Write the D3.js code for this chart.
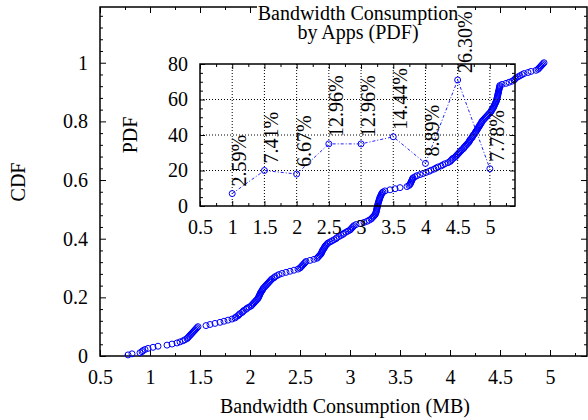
<!DOCTYPE html>
<html lang="en">
<head>
<meta charset="UTF-8">
<title>Bandwidth Consumption CDF / PDF</title>
<style>
  body { margin: 0; background: #fff; }
  svg { display: block; }
  svg text { font-family: "Liberation Serif", "DejaVu Serif", serif !important; fill: #000; }
</style>
</head>
<body>
<svg width="588" height="420" font-family="Liberation Serif"></svg>
<script src="https://d3js.org/d3.v7.min.js"></script>
<script>
// sorted per-app bandwidth samples (MB)
const bandwidth = [
  0.78, 0.82, 0.90, 0.92, 0.93, 0.95, 0.98,
  1.03, 1.08, 1.17, 1.22, 1.27, 1.30, 1.33, 1.35, 1.37, 1.38,
  1.39, 1.40, 1.41, 1.42, 1.43, 1.44, 1.45, 1.46, 1.47, 1.48,
  1.56, 1.60, 1.65, 1.70, 1.74, 1.78, 1.82, 1.85, 1.86, 1.88,
  1.89, 1.90, 1.92, 1.93, 1.94, 1.96, 1.97, 1.99,
  2.01, 2.02, 2.03, 2.04, 2.05, 2.06, 2.07, 2.08, 2.085, 2.09,
  2.095, 2.10, 2.105, 2.11, 2.12, 2.125, 2.13, 2.14, 2.15, 2.16,
  2.17, 2.18, 2.19, 2.20, 2.21, 2.22, 2.24, 2.25, 2.27, 2.29,
  2.32, 2.36, 2.40, 2.44, 2.48,
  2.50, 2.51, 2.52, 2.53, 2.54, 2.55, 2.56, 2.60, 2.64, 2.67,
  2.68, 2.69, 2.70, 2.71, 2.715, 2.72, 2.725, 2.73, 2.74, 2.745,
  2.75, 2.76, 2.77, 2.78, 2.80, 2.82, 2.84, 2.86, 2.87, 2.89,
  2.91, 2.93, 2.94, 2.96, 2.98,
  3.00, 3.01, 3.02, 3.03, 3.04, 3.06, 3.10, 3.14, 3.17, 3.19,
  3.21, 3.22, 3.23, 3.24, 3.25, 3.255, 3.26, 3.262, 3.265, 3.267,
  3.27, 3.272, 3.275, 3.277, 3.28, 3.283, 3.286, 3.29, 3.293, 3.296,
  3.30, 3.305, 3.31, 3.315, 3.32, 3.33, 3.35, 3.40, 3.45,
  3.50, 3.57, 3.59, 3.60, 3.605, 3.61, 3.615, 3.62, 3.625, 3.63,
  3.65, 3.67, 3.70, 3.73, 3.76, 3.79, 3.81, 3.84, 3.86, 3.88,
  3.91, 3.93, 3.95, 3.98,
  4.00, 4.01, 4.02, 4.03, 4.05, 4.06, 4.07, 4.08, 4.09, 4.10,
  4.11, 4.12, 4.135, 4.14, 4.15, 4.16, 4.17, 4.18, 4.19, 4.195,
  4.20, 4.21, 4.22, 4.225, 4.23, 4.24, 4.25, 4.255, 4.26, 4.27,
  4.275, 4.28, 4.29, 4.295, 4.30, 4.31, 4.315, 4.32, 4.33, 4.34,
  4.35, 4.36, 4.37, 4.38, 4.39, 4.40, 4.41, 4.415, 4.42, 4.43,
  4.435, 4.44, 4.445, 4.45, 4.455, 4.46, 4.465, 4.467, 4.47, 4.472,
  4.475, 4.477, 4.48, 4.482, 4.485, 4.487, 4.49, 4.492, 4.494, 4.496, 4.498,
  4.52, 4.56, 4.59, 4.62, 4.64, 4.65, 4.66, 4.68, 4.70, 4.72,
  4.74, 4.78, 4.81, 4.86, 4.88, 4.89, 4.90, 4.91, 4.92, 4.93, 4.94
];

// inset: histogram of the same samples
const pdfBins = [1, 1.5, 2, 2.5, 3, 3.5, 4, 4.5, 5];
const pdfCounts = [7, 20, 18, 35, 35, 39, 24, 71, 21];
const pdfLabels = ["2.59%", "7.41%", "6.67%", "12.96%", "12.96%", "14.44%", "8.89%", "26.30%", "7.78%"];

const xTicks = [0.5, 1, 1.5, 2, 2.5, 3, 3.5, 4, 4.5, 5];
const xMinor = [0.75, 1.25, 1.75, 2.25, 2.75, 3.25, 3.75, 4.25, 4.75, 5.25];
const cdfTicks = [0, 0.2, 0.4, 0.6, 0.8, 1];
const pdfTicks = [0, 20, 40, 60, 80];
const pdfGridX = [1, 1.5, 2, 2.5, 3, 3.5, 4, 4.5, 5];
const pdfGridY = [20, 40, 60];

const svg = d3.select("svg");
const FS = 20;
const SERIF = '"Liberation Serif", "DejaVu Serif", serif';

// draws a closed frame with inward ticks on all four sides
function frame(g, x, y, o) {
  const [x0, x1] = x.range();
  const [y0, y1] = y.range();
  const add = (axis, tx, ty) => g.append("g")
    .attr("transform", `translate(${tx},${ty})`)
    .call(axis)
    .call(s => s.select(".domain").remove())
    .attr("font-family", SERIF)
    .attr("font-size", FS);

  add(d3.axisBottom(x).tickValues(o.xt).tickSize(-o.major).tickSizeOuter(0)
      .tickPadding(o.xpad).tickFormat(d3.format("")), 0, y0);
  add(d3.axisTop(x).tickValues(o.xt).tickSize(-o.major).tickFormat(""), 0, y1);
  add(d3.axisBottom(x).tickValues(o.xm).tickSize(-o.minor).tickFormat(""), 0, y0);
  add(d3.axisTop(x).tickValues(o.xm).tickSize(-o.minor).tickFormat(""), 0, y1);

  add(d3.axisLeft(y).tickValues(o.yt).tickSize(-o.major).tickSizeOuter(0)
      .tickPadding(o.ypad).tickFormat(d3.format("")), x0, 0);
  add(d3.axisRight(y).tickValues(o.yt).tickSize(-o.major).tickFormat(""), x1, 0);
  add(d3.axisLeft(y).tickValues(o.ym).tickSize(-o.minor).tickFormat(""), x0, 0);
  add(d3.axisRight(y).tickValues(o.ym).tickSize(-o.minor).tickFormat(""), x1, 0);

  g.selectAll(".tick line").attr("stroke", "#000");

  g.append("rect")
    .attr("x", x0).attr("y", y1)
    .attr("width", x1 - x0).attr("height", y0 - y1)
    .attr("fill", "none").attr("stroke", "#000").attr("stroke-width", 1.5);
}

// ---- main CDF plot ----
const x = d3.scaleLinear().domain([0.5, 5.37]).range([100, 587]);
const y = d3.scaleLinear().domain([0, 1.19]).range([356, 7]);

const mainG = svg.append("g");
frame(mainG, x, y, {
  xt: xTicks, xm: xMinor, yt: cdfTicks,
  ym: d3.range(0.04, 1.17, 0.04).filter(v => Math.abs(v / 0.2 - Math.round(v / 0.2)) > 0.01),
  major: 6, minor: 3, xpad: 14, ypad: 12
});

const n = bandwidth.length;
svg.append("g")
  .selectAll("circle")
  .data(bandwidth)
  .join("circle")
  .attr("cx", d => x(d))
  .attr("cy", (d, i) => y((i + 1) / n))
  .attr("r", 3)
  .attr("fill", "none")
  .attr("stroke", "#0000ff")
  .attr("stroke-width", 1);

svg.append("text")
  .attr("transform", "translate(18,182) rotate(-90)")
  .attr("text-anchor", "middle")
  .attr("dominant-baseline", "central")
  .style("font-size", FS + "px")
  .text("CDF");

svg.append("text")
  .attr("x", 345).attr("y", 413)
  .attr("text-anchor", "middle")
  .style("font-size", FS + "px")
  .text("Bandwidth Consumption (MB)");

// ---- inset PDF plot ----
const ix = d3.scaleLinear().domain([0.5, 5.39]).range([200, 515]);
const iy = d3.scaleLinear().domain([0, 80]).range([206, 64]);

const inset = svg.append("g");

inset.append("g")
  .attr("stroke", "#000")
  .attr("stroke-width", 1)
  .attr("stroke-dasharray", "1,2")
  .call(g => g.selectAll("line.vx").data(pdfGridX).join("line")
    .attr("class", "vx")
    .attr("x1", d => ix(d)).attr("x2", d => ix(d))
    .attr("y1", iy(0)).attr("y2", iy(80)))
  .call(g => g.selectAll("line.hy").data(pdfGridY).join("line")
    .attr("class", "hy")
    .attr("x1", ix(0.5)).attr("x2", ix(5.39))
    .attr("y1", d => iy(d)).attr("y2", d => iy(d)));

frame(inset.append("g"), ix, iy, {
  xt: xTicks, xm: xMinor, yt: pdfTicks,
  ym: d3.range(5, 80, 5).filter(v => v % 20 !== 0),
  major: 5, minor: 3, xpad: 14, ypad: 12
});

const pdfPts = pdfBins.map((b, i) => ({ b, c: pdfCounts[i], label: pdfLabels[i] }));

inset.append("path")
  .datum(pdfPts)
  .attr("fill", "none")
  .attr("stroke", "#2020ff")
  .attr("stroke-width", 1)
  .attr("stroke-dasharray", "3,2,1,2")
  .attr("d", d3.line().x(d => ix(d.b)).y(d => iy(d.c)));

inset.append("g")
  .selectAll("circle")
  .data(pdfPts)
  .join("circle")
  .attr("cx", d => ix(d.b))
  .attr("cy", d => iy(d.c))
  .attr("r", 3)
  .attr("fill", "none")
  .attr("stroke", "#0000ff");

inset.append("g")
  .selectAll("text")
  .data(pdfPts)
  .join("text")
  .attr("transform", d => `translate(${ix(d.b) + 14},${iy(d.c) - 7}) rotate(-90)`)
  .style("font-size", "20px")
  .text(d => d.label);

svg.append("text")
  .attr("transform", "translate(130,135) rotate(-90)")
  .attr("text-anchor", "middle")
  .attr("dominant-baseline", "central")
  .style("font-size", FS + "px")
  .text("PDF");

// title box hides the main frame's top edge behind it
svg.append("rect")
  .attr("x", 257).attr("y", 0)
  .attr("width", 200).attr("height", 22)
  .attr("fill", "#fff");

svg.append("text")
  .attr("x", 358).attr("y", 20)
  .attr("text-anchor", "middle")
  .style("font-size", FS + "px")
  .text("Bandwidth Consumption");

svg.append("text")
  .attr("x", 358).attr("y", 39)
  .attr("text-anchor", "middle")
  .style("font-size", FS + "px")
  .text("by Apps (PDF)");
</script>
</body>
</html>
